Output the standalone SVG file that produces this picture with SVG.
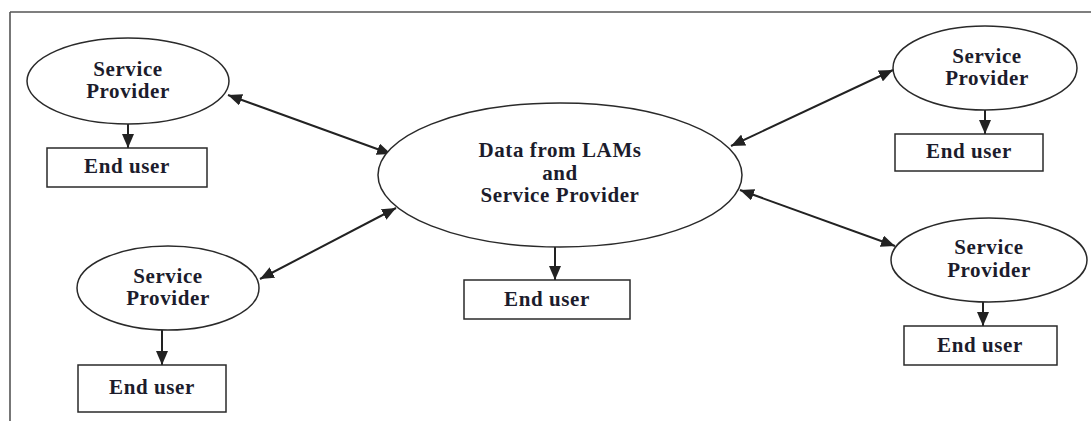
<svg xmlns="http://www.w3.org/2000/svg" width="1091" height="421" viewBox="0 0 1091 421">
  <style>
    .frame { stroke: #555; stroke-width: 1.6; fill: none; }
    .shape { fill: #fff; stroke: #2a2a2a; stroke-width: 1.5; }
    .link { stroke: #222; stroke-width: 2; fill: none; }
    .lbl { font-family: "Liberation Serif", "Times New Roman", serif; font-weight: bold; font-size: 21px; letter-spacing: 0.6px; fill: #1c1c2c; text-anchor: middle; }
  </style>
  <defs>
    <marker id="head" viewBox="0 0 14 12" refX="14" refY="6" markerWidth="14" markerHeight="12" markerUnits="userSpaceOnUse" orient="auto-start-reverse">
      <path d="M0,0 L14,6 L0,12 Z" fill="#222"/>
    </marker>
  </defs>
  <rect width="1091" height="421" fill="#fff"/>

  <!-- outer frame (top and left edges only) -->
  <path class="frame" d="M10,12 H1091 M10,12 V421"/>

  <!-- connectors -->
  <g id="connectors">
    <path class="link" d="M228,95 L391,154" marker-start="url(#head)" marker-end="url(#head)"/>
    <path class="link" d="M260,279 L396,208" marker-start="url(#head)" marker-end="url(#head)"/>
    <path class="link" d="M731,146 L893,70" marker-start="url(#head)" marker-end="url(#head)"/>
    <path class="link" d="M740,190 L895,246" marker-start="url(#head)" marker-end="url(#head)"/>
    <path class="link" d="M128,123 V148" marker-end="url(#head)"/>
    <path class="link" d="M162,330 V365" marker-end="url(#head)"/>
    <path class="link" d="M555,247 V280" marker-end="url(#head)"/>
    <path class="link" d="M985,110 V134" marker-end="url(#head)"/>
    <path class="link" d="M983,302 V326" marker-end="url(#head)"/>
  </g>

  <!-- central data store -->
  <g id="data-hub">
    <ellipse class="shape" cx="560" cy="175" rx="182" ry="72"/>
    <text class="lbl" x="560" y="157">Data from LAMs</text>
    <text class="lbl" x="560" y="180">and</text>
    <text class="lbl" x="560" y="202">Service Provider</text>
  </g>
  <g id="hub-end-user">
    <rect class="shape" x="464" y="280" width="166" height="39"/>
    <text class="lbl" x="547" y="306">End user</text>
  </g>

  <!-- top-left provider -->
  <g id="provider-top-left">
    <ellipse class="shape" cx="128" cy="81" rx="101" ry="43"/>
    <text class="lbl" x="128" y="76">Service</text>
    <text class="lbl" x="128" y="98">Provider</text>
  </g>
  <g id="end-user-top-left">
    <rect class="shape" x="47" y="148" width="160" height="39"/>
    <text class="lbl" x="127" y="173">End user</text>
  </g>

  <!-- bottom-left provider -->
  <g id="provider-bottom-left">
    <ellipse class="shape" cx="168" cy="288" rx="91" ry="42"/>
    <text class="lbl" x="168" y="283">Service</text>
    <text class="lbl" x="168" y="305">Provider</text>
  </g>
  <g id="end-user-bottom-left">
    <rect class="shape" x="78" y="365" width="148" height="47"/>
    <text class="lbl" x="152" y="394">End user</text>
  </g>

  <!-- top-right provider -->
  <g id="provider-top-right">
    <ellipse class="shape" cx="985" cy="68" rx="92" ry="42"/>
    <text class="lbl" x="987" y="63">Service</text>
    <text class="lbl" x="987" y="85">Provider</text>
  </g>
  <g id="end-user-top-right">
    <rect class="shape" x="895" y="134" width="148" height="37"/>
    <text class="lbl" x="969" y="158">End user</text>
  </g>

  <!-- bottom-right provider -->
  <g id="provider-bottom-right">
    <ellipse class="shape" cx="989" cy="260" rx="98" ry="42"/>
    <text class="lbl" x="989" y="254">Service</text>
    <text class="lbl" x="989" y="277">Provider</text>
  </g>
  <g id="end-user-bottom-right">
    <rect class="shape" x="904" y="326" width="153" height="39"/>
    <text class="lbl" x="980" y="352">End user</text>
  </g>
</svg>
